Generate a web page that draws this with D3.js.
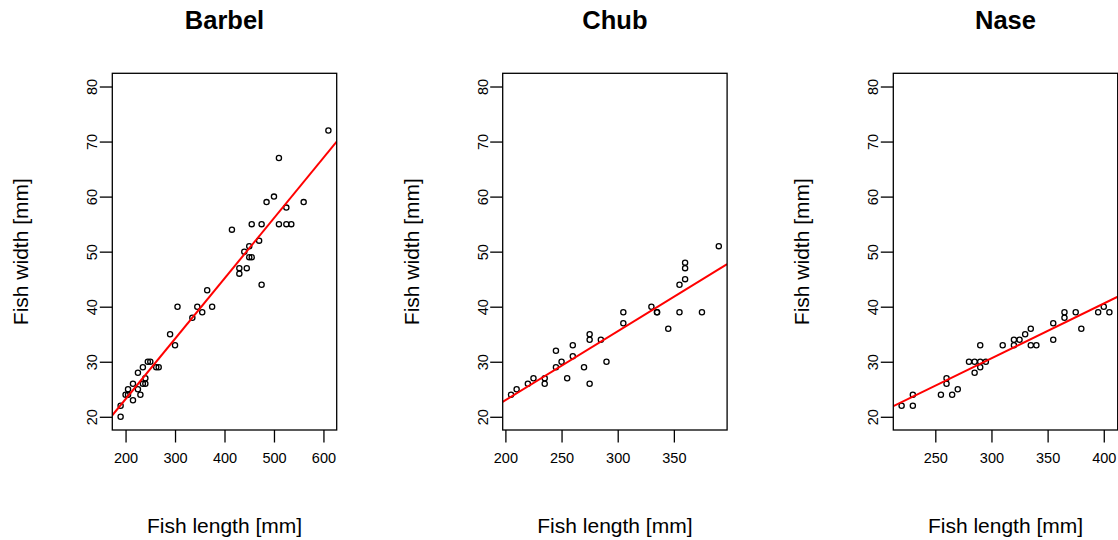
<!DOCTYPE html>
<html>
<head>
<meta charset="utf-8">
<script src="https://cdn.jsdelivr.net/npm/d3@7"></script>
<style>
  body { margin: 0; background: #fff; }
  svg { display: block; }
  text { font-family: "Liberation Sans", Arial, Helvetica, sans-serif; fill: #000; }
</style>
</head>
<body>
<div id="chart"></div>
<script>
// values
const species = ["Barbel", "Chub", "Nase"];

const barbelLength = [190, 190, 200, 205, 205, 215, 215, 225, 225, 230, 235, 240, 240, 235, 245, 250, 262, 267,
  290, 300, 305, 335, 345, 355, 365, 375, 415, 430, 430, 440, 445, 450, 455, 450, 455, 470, 475, 475,
  485, 500, 510, 510, 525, 525, 535, 560, 610];
const barbelWidth = [20, 22, 24, 24, 25, 23, 26, 25, 28, 24, 26, 26, 27, 29, 30, 30, 29, 29,
  35, 33, 40, 38, 40, 39, 43, 40, 54, 46, 47, 50, 47, 49, 49, 51, 55, 52, 44, 55,
  59, 60, 55, 67, 55, 58, 55, 59, 72];

const chubLength = [205, 210, 220, 225, 235, 235, 245, 245, 250, 255, 260, 260, 270, 275, 275, 275, 285, 290,
  305, 305, 330, 335, 335, 345, 355, 355, 360, 360, 360, 375, 390];
const chubWidth = [24, 25, 26, 27, 26, 27, 29, 32, 30, 27, 31, 33, 29, 26, 34, 35, 34, 30,
  37, 39, 40, 39, 39, 36, 39, 44, 45, 47, 48, 39, 51];

const naseLength = [220, 230, 230, 255, 260, 260, 265, 270, 280, 285, 285, 290, 290, 290, 295, 310, 320, 320,
  325, 330, 335, 335, 340, 355, 355, 365, 365, 375, 380, 395, 400, 405];
const naseWidth = [22, 22, 24, 24, 26, 27, 24, 25, 30, 30, 28, 30, 29, 33, 30, 33, 33, 34,
  34, 35, 36, 33, 33, 37, 34, 39, 38, 39, 36, 39, 40, 39];

const xTicks = [[200, 300, 400, 500, 600], [200, 250, 300, 350], [250, 300, 350, 400]];
const yTicks = [20, 30, 40, 50, 60, 70, 80];
const yLimits = [20, 80];
const fitIntercept = [1.29, -2.02, 0.785];
const fitSlope = [0.1096, 0.1252, 0.0995];

const xLabel = "Fish length [mm]";
const yLabel = "Fish width [mm]";

const W = 1118, H = 540;
const panelLeft = [112.3, 502.7, 893.3];
const plotW = 224.4, plotTop = 73.3, plotBottom = 430;
const tickLen = 12.5;

const lengths = [barbelLength, chubLength, naseLength];
const widths = [barbelWidth, chubWidth, naseWidth];

const svg = d3.select("#chart").append("svg")
  .attr("width", W).attr("height", H);

// R style 4% range extension
function pad(ext) {
  const d = (ext[1] - ext[0]) * 0.04;
  return [ext[0] - d, ext[1] + d];
}

species.forEach((name, i) => {
  const x0 = panelLeft[i];
  const pts = lengths[i].map((v, j) => ({ len: v, wid: widths[i][j] }));

  const x = d3.scaleLinear().domain(pad(d3.extent(lengths[i]))).range([x0, x0 + plotW]);
  const y = d3.scaleLinear().domain(pad(yLimits)).range([plotBottom, plotTop]);

  const g = svg.append("g");

  g.append("clipPath").attr("id", "clip" + i)
    .append("rect")
    .attr("x", x0).attr("y", plotTop)
    .attr("width", plotW).attr("height", plotBottom - plotTop);

  // points
  g.append("g").selectAll("circle")
    .data(pts)
    .join("circle")
    .attr("cx", d => x(d.len))
    .attr("cy", d => y(d.wid))
    .attr("r", 2.6)
    .attr("fill", "none")
    .attr("stroke", "#000")
    .attr("stroke-width", 1.3);

  // fitted line
  const xd = x.domain();
  g.append("line")
    .attr("clip-path", `url(#clip${i})`)
    .attr("x1", x(xd[0])).attr("y1", y(fitIntercept[i] + fitSlope[i] * xd[0]))
    .attr("x2", x(xd[1])).attr("y2", y(fitIntercept[i] + fitSlope[i] * xd[1]))
    .attr("stroke", "#ff0000")
    .attr("stroke-width", 2);

  // box
  g.append("rect")
    .attr("x", x0).attr("y", plotTop)
    .attr("width", plotW).attr("height", plotBottom - plotTop)
    .attr("fill", "none").attr("stroke", "#000").attr("stroke-width", 1.3);

  // x axis
  const xAxis = g.append("g")
    .attr("transform", `translate(0,${plotBottom})`)
    .call(d3.axisBottom(x).tickValues(xTicks[i]).tickSize(tickLen).tickPadding(10).tickSizeOuter(0));
  xAxis.select(".domain").remove();
  xAxis.selectAll("line").attr("stroke-width", 1.3);
  xAxis.selectAll("text").attr("font-size", 14.5).attr("font-family", "Liberation Sans, Arial, sans-serif");

  // y axis, labels rotated like R's default
  const yAxis = g.append("g")
    .attr("transform", `translate(${x0},0)`)
    .call(d3.axisLeft(y).tickValues(yTicks).tickSize(tickLen).tickSizeOuter(0));
  yAxis.select(".domain").remove();
  yAxis.selectAll("line").attr("stroke-width", 1.3);
  yAxis.selectAll("text")
    .attr("font-size", 14.5)
    .attr("font-family", "Liberation Sans, Arial, sans-serif")
    .attr("x", null).attr("dy", null)
    .attr("text-anchor", "middle")
    .attr("transform", "translate(-20,0) rotate(-90)")
    .attr("dominant-baseline", "central");

  // title
  g.append("text")
    .attr("x", x0 + plotW / 2).attr("y", 29)
    .attr("text-anchor", "middle")
    .attr("font-size", 25.5).attr("font-weight", "bold")
    .text(name);

  // axis titles
  g.append("text")
    .attr("x", x0 + plotW / 2).attr("y", 533)
    .attr("text-anchor", "middle")
    .attr("font-size", 21)
    .text(xLabel);

  g.append("text")
    .attr("transform", `translate(${x0 - 84},${(plotTop + plotBottom) / 2}) rotate(-90)`)
    .attr("text-anchor", "middle")
    .attr("font-size", 21)
    .text(yLabel);
});
</script>
</body>
</html>
